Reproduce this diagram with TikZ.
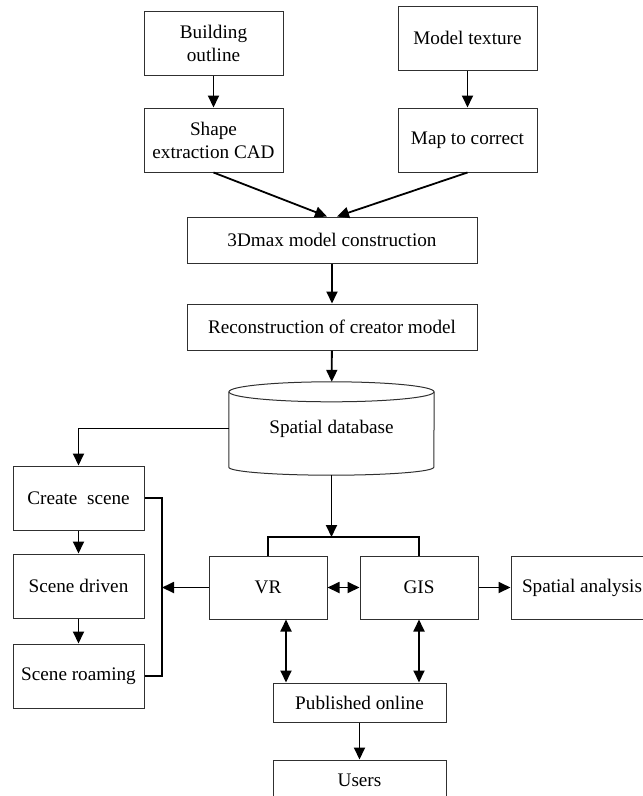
\documentclass[tikz,border=0pt]{standalone}
\usepackage{fontspec}
\setmainfont{Liberation Serif}
\usepackage{tikz}
\usetikzlibrary{positioning,arrows.meta}
\definecolor{ink}{HTML}{303030}
\definecolor{wire}{HTML}{000000}

\begin{document}
\begin{tikzpicture}[
    x=1pt, y=-1pt,
    box/.style={draw=ink, align=center, line width=1pt, inner sep=2pt,
                font=\fontsize{19.2}{23}\selectfont,
                minimum width=139pt, minimum height=64pt},
    wide/.style={box, minimum width=290pt, minimum height=46pt},
    small/.style={box, minimum width=131pt},
    mid/.style={box, minimum width=118pt, minimum height=63pt},
    pubbox/.style={box, minimum width=173pt, minimum height=39pt},
    store/.style={align=center, font=\fontsize{19.2}{23}\selectfont,
                  minimum width=205pt, minimum height=93pt},
    line/.style={draw=wire, line width=1.8pt},
    flow/.style={line, -{Triangle[length=12pt,width=11pt]}},
    both/.style={line, {Triangle[length=12pt,width=11pt]}-{Triangle[length=12pt,width=11pt]}},
  ]
  \useasboundingbox (0,0) rectangle (643,796);

  \node[box] at (213.5,43)          (bo)    {Building\\outline};
  \node[box, below=32pt of bo]      (sx)    {Shape\\extraction CAD};
  \node[box] at (467.5,38)          (mt)    {Model texture};
  \node[box, below=37pt of mt]      (mc)    {Map to correct};
  \node[wide] at (332,240)          (max)   {3Dmax model construction};
  \node[wide, below=40pt of max]    (rec)   {Reconstruction of creator model};
  \node[store] at (331.5,428.5)     (db)    {Spatial database};

  \node[small] at (78.5,498)        (cs)    {Create\ \ scene};
  \node[small, below=23pt of cs]    (sd)    {Scene driven};
  \node[small, below=25pt of sd]    (sr)    {Scene roaming};
  \node[mid] at (268,587.5)         (vr)    {VR};
  \node[mid, right=32pt of vr]      (gis)   {GIS};
  \node[mid, right=32pt of gis, minimum width=142pt] (sa) {Spatial analysis};
  \node[pubbox] at (359.5,702.5)    (pub)   {Published online};
  \node[pubbox, below=37pt of pub, minimum height=40pt] (users) {Users};

  % cylinder outline round the database node
  \draw[ink, line width=1pt] ([yshift=-10pt]db.north) ellipse [x radius=102.5pt, y radius=10pt];
  \draw[ink, line width=1pt] ([yshift=-10pt]db.north west) -- ([yshift=8pt]db.south west)
    arc[start angle=180, end angle=360, x radius=102.5pt, y radius=8pt] -- ([yshift=-10pt]db.north east);

  \coordinate (bar) at (0,537);
  \coordinate (brk) at (162,0);

  \draw[flow] (bo) -- (sx);
  \draw[flow] (mt) -- (mc);
  \draw[flow] (sx.south) -- ([xshift=-5pt]max.north);
  \draw[flow] (mc.south) -- ([xshift=5pt]max.north);
  \draw[flow] (max) -- (rec);
  \draw[flow] (rec) -- (db);
  \draw[flow] (db.west) -| (cs.north);
  \draw[flow] (cs) -- (sd);
  \draw[flow] (sd) -- (sr);
  % the scene steps are grouped by a bracket that VR feeds
  \draw[line] (cs.east) -- (cs.east -| brk) -- (sr.east -| brk) -- (sr.east);
  \draw[flow] (vr.west) -- (vr.west -| brk);
  \draw[line] (vr.north) -- (vr.north |- bar) -- (gis.north |- bar) -- (gis.north);
  \draw[flow] (db.south) -- (db.south |- bar);
  \draw[both] (vr) -- (gis);
  \draw[flow] (gis) -- (sa);
  \draw[both] ([xshift=18pt]vr.south) -- ([xshift=18pt]vr.south |- pub.north);
  \draw[both] (gis.south) -- (gis.south |- pub.north);
  \draw[flow] (pub) -- (users);
\end{tikzpicture}
\end{document}
